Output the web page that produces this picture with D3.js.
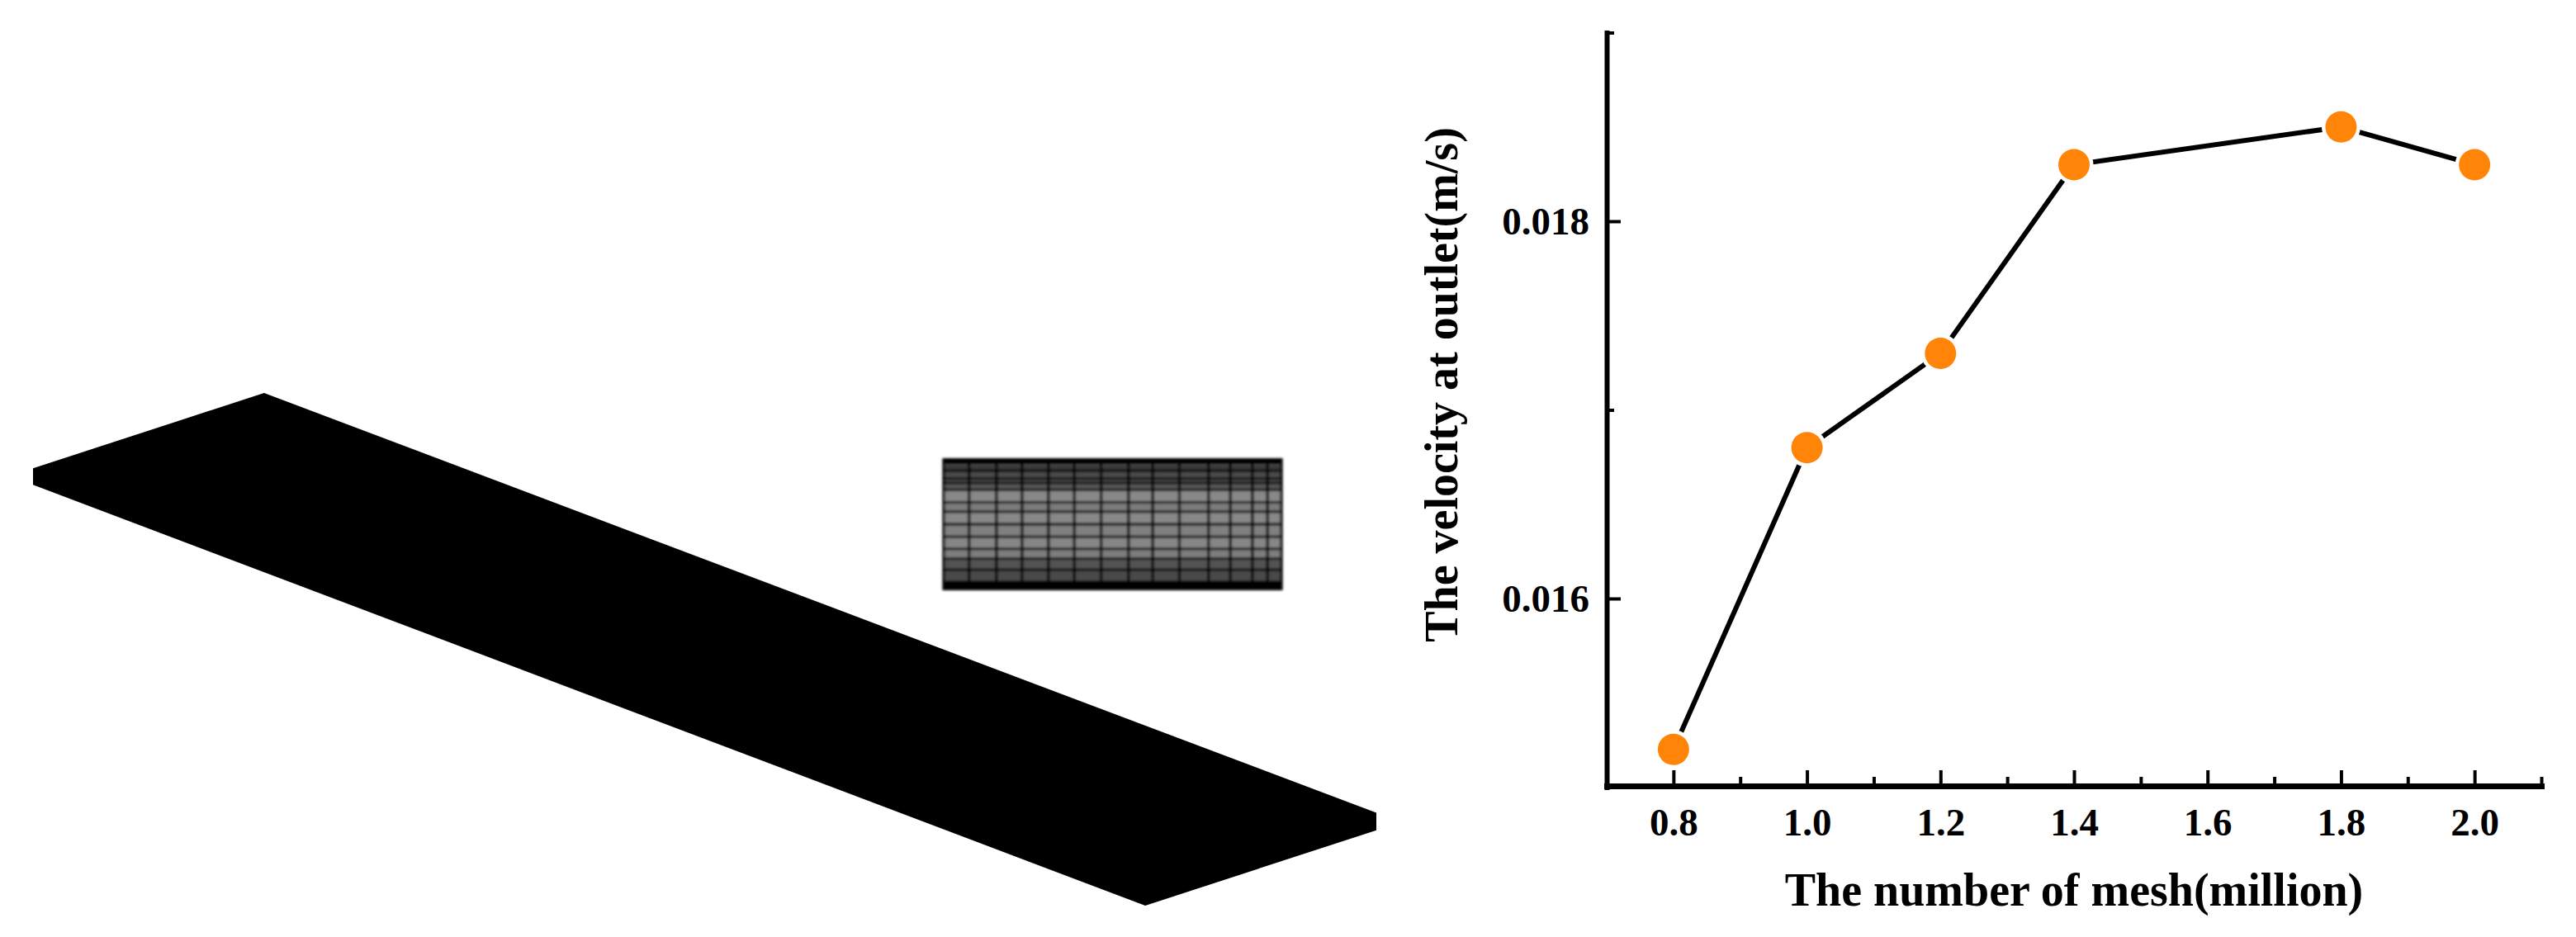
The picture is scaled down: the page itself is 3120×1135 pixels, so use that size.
<!DOCTYPE html>
<html><head><meta charset="utf-8">
<script src="https://cdn.jsdelivr.net/npm/d3@7"></script>
<style>html,body{margin:0;padding:0;background:#fff}svg{display:block}text{font-family:"Liberation Serif",serif;font-weight:bold;fill:#000}</style>
</head><body>
<svg id="c" width="3120" height="1135"></svg>
<script>
// chart data
const meshCounts=[0.8,1.0,1.2,1.4,1.8,2.0];
const outletVelocity=[0.0152,0.0168,0.0173,0.0183,0.0185,0.0183];
const xMajorTicks=[0.8,1.0,1.2,1.4,1.6,1.8,2.0];
const xMinorTicks=[0.9,1.1,1.3,1.5,1.7,1.9,2.1];
const yMajorTicks=[0.016,0.018];
const yMinorTicks=[0.017,0.019];
const xTitle="The number of mesh(million)";
const yTitle="The velocity at outlet(m/s)";
// schematic: plate outline (fractions of its own box)
const plateU=[0,0.172,1,1,0.828,0];
const plateV=[0.147,0,0.819,0.853,1,0.179];
// schematic: mesh cross-section (fractions of its own box)
const bandEdges=[0,0.045,0.094,0.156,0.24,0.333,0.406,0.5,0.594,0.687,0.76,0.844,0.937,1];
const bandGreys=[6,58,72,84,136,124,136,128,134,126,82,72,4];
const hLines=[0.094,0.156,0.187,0.24,0.333,0.406,0.5,0.594,0.687,0.76,0.844,0.937];
const vLines=[0,0.075,0.156,0.232,0.31,0.387,0.466,0.547,0.619,0.698,0.784,0.849,0.914,0.959,1];

const svg=d3.select("#c");
const x=d3.scaleLinear().domain([0.7,2.1]).range([1946,3078]);
const y=d3.scaleLinear().domain([0.015,0.019]).range([953.5,39.5]);

// plate
const px=d3.scaleLinear().domain([0,1]).range([40,1667]);
const py=d3.scaleLinear().domain([0,1]).range([476,1097]);
svg.append("path").attr("fill","#000")
  .attr("d",d3.line()(plateU.map((u,i)=>[px(u),py(plateV[i])]))+"Z");

// mesh inset
const defs=svg.append("defs");
defs.append("filter").attr("id","soft").attr("x","-5%").attr("y","-5%").attr("width","110%").attr("height","110%")
  .append("feGaussianBlur").attr("stdDeviation",1.5);
const mx=d3.scaleLinear().domain([0,1]).range([1143,1552]);
const my=d3.scaleLinear().domain([0,1]).range([555,715]);
const inset=svg.append("g").attr("filter","url(#soft)");
inset.selectAll("rect").data(bandGreys).join("rect")
  .attr("x",mx(0)).attr("width",mx(1)-mx(0))
  .attr("y",(d,i)=>my(bandEdges[i])).attr("height",(d,i)=>my(bandEdges[i+1])-my(bandEdges[i]))
  .attr("fill",d=>d3.rgb(d,d,d));
inset.selectAll("line.h").data(hLines).join("line").attr("class","h")
  .attr("x1",mx(0)).attr("x2",mx(1)).attr("y1",d=>my(d)).attr("y2",d=>my(d))
  .attr("stroke","#000").attr("stroke-width",2.8);
inset.selectAll("line.v").data(vLines).join("line").attr("class","v")
  .attr("y1",my(0)).attr("y2",my(1)).attr("x1",d=>mx(d)).attr("x2",d=>mx(d))
  .attr("stroke","#000").attr("stroke-width",3.2);

// axes
function style(g,w){g.select(".domain").attr("stroke-width",w).attr("stroke-linecap","square");
  g.selectAll(".tick line").attr("stroke-width",4);
  g.selectAll("text").style("font-size","47px").style("font-family",'"Liberation Serif",serif').style("font-weight","bold");}
const gxm=svg.append("g").attr("transform","translate(0,952)")
  .call(d3.axisBottom(x).tickValues(xMinorTicks).tickSizeInner(-11).tickSizeOuter(0).tickFormat(""));
gxm.select(".domain").remove();gxm.selectAll(".tick line").attr("stroke-width",4);
const gx=svg.append("g").attr("transform","translate(0,952)")
  .call(d3.axisBottom(x).tickValues(xMajorTicks).tickSizeInner(-19).tickSizeOuter(0).tickPadding(27).tickFormat(d3.format(".1f")));
style(gx,7);
const gym=svg.append("g").attr("transform","translate(1946,0)")
  .call(d3.axisLeft(y).tickValues(yMinorTicks).tickSizeInner(-9).tickSizeOuter(0).tickFormat(""));
gym.select(".domain").remove();gym.selectAll(".tick line").attr("stroke-width",4);
const gy=svg.append("g").attr("transform","translate(1946,0)")
  .call(d3.axisLeft(y).tickValues(yMajorTicks).tickSizeInner(-17).tickSizeOuter(0).tickPadding(21).tickFormat(d3.format(".3f")));
style(gy,6);

// series
const pts=meshCounts.map((m,i)=>[x(m),y(outletVelocity[i])]);
svg.append("path").attr("fill","none").attr("stroke","#000").attr("stroke-width",6)
  .attr("d",d3.line()(pts));
svg.append("g").selectAll("circle").data(pts).join("circle")
  .attr("cx",d=>d[0]).attr("cy",d=>d[1]).attr("r",23.5).attr("fill","#fff");
svg.append("g").selectAll("circle").data(pts).join("circle")
  .attr("cx",d=>d[0]).attr("cy",d=>d[1]).attr("r",19).attr("fill","#ff8408");

// titles
svg.append("text").attr("x",2512).attr("y",1097).attr("text-anchor","middle").style("font-size","56px").text(xTitle);
svg.append("text").attr("transform","translate(1765,466) rotate(-90)").attr("text-anchor","middle").style("font-size","56px").text(yTitle);
</script>
</body></html>
